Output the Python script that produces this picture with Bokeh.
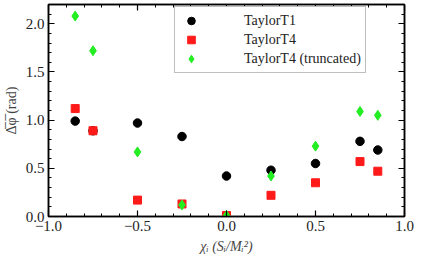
from bokeh.plotting import figure
from bokeh.models import (Range1d, LinearAxis, FixedTicker, Legend, LegendItem,
                          CustomLabelingPolicy)
from bokeh.embed import file_html
from bokeh.resources import INLINE

# ---- data ----
chi = [-0.85, -0.75, -0.5, -0.25, 0.0, 0.25, 0.5, 0.75, 0.85]
taylor_t1 = [0.99, 0.89, 0.97, 0.83, 0.42, 0.48, 0.55, 0.78, 0.69]
taylor_t4 = [1.12, 0.89, 0.17, 0.13, 0.01, 0.22, 0.35, 0.57, 0.47]
taylor_t4_trunc = [2.08, 1.72, 0.67, 0.12, 0.01, 0.42, 0.73, 1.09, 1.05]

x_ticks = [-1.0, -0.5, 0.0, 0.5, 1.0]
x_tick_labels = ["\u22121.0", "\u22120.5", "0.0", "0.5", "1.0"]
y_ticks = [0.0, 0.5, 1.0, 1.5, 2.0]
y_tick_labels = ["0.0", "0.5", "1.0", "1.5", "2.0"]
x_minor = [round(-1.0 + 0.1 * i, 2) for i in range(21)]
y_minor = [round(0.1 * i, 2) for i in range(23)]

series_names = ["TaylorT1", "TaylorT4", "TaylorT4 (truncated)"]
x_label = "\u03c7\u1d62 (S\u1d62/M\u1d62\u00b2)"
y_label = "\u0394\u0305\u03c6\u0305 (rad)"

FONT = "'Liberation Serif'"

p = figure(width=420, height=256,
           min_border_left=45, min_border_right=16,
           min_border_top=0, min_border_bottom=20,
           x_range=Range1d(-1.0, 1.0), y_range=Range1d(0.0, 2.2),
           output_backend="svg", toolbar_location=None,
           background_fill_color="white", border_fill_color="white")
p.xgrid.visible = False
p.ygrid.visible = False
p.outline_line_color = "black"
p.outline_line_width = 1.5

r1 = p.scatter(chi, taylor_t1, marker="circle", size=8.5, color="black")
r2 = p.scatter(chi, taylor_t4, marker="square", size=8, color="#ff1a1a")
r3 = p.scatter(chi, taylor_t4_trunc, marker="diamond", size=10, color="#22ee22")

hide_all = CustomLabelingPolicy(code="""
    const idx = [...indices]
    for (const i of idx) indices.unset(i)
    return indices
""")

def style_axis(ax, ticks, labels, minor, show_labels=True):
    ax.ticker = FixedTicker(ticks=ticks, minor_ticks=minor)
    ax.major_label_overrides = {t: l for t, l in zip(ticks, labels)}
    ax.axis_line_color = "black"
    ax.axis_line_width = 1.5
    ax.major_tick_line_color = "black"
    ax.minor_tick_line_color = "black"
    ax.major_tick_line_width = 1.2
    ax.minor_tick_line_width = 1.0
    ax.major_tick_in = 6
    ax.major_tick_out = 0
    ax.minor_tick_in = 3
    ax.minor_tick_out = 0
    ax.major_label_text_font = FONT
    ax.major_label_text_color = "#222222"
    if show_labels:
        ax.major_label_text_font_size = "15px"
        ax.major_label_standoff = 4
    else:
        ax.major_label_text_font_size = "1px"
        ax.major_label_policy = hide_all
        ax.major_label_standoff = 0

xax = p.xaxis[0]
yax = p.yaxis[0]
style_axis(xax, x_ticks, x_tick_labels, x_minor)
style_axis(yax, y_ticks, y_tick_labels, y_minor)

xax.axis_label = x_label
xax.axis_label_text_font = FONT
xax.axis_label_text_font_style = "italic"
xax.axis_label_text_font_size = "14px"
xax.axis_label_standoff = 5

yax.axis_label = y_label
yax.axis_label_text_font = FONT
yax.axis_label_text_font_style = "normal"
yax.axis_label_text_font_size = "14px"
yax.axis_label_standoff = 4

top = LinearAxis()
style_axis(top, x_ticks, x_tick_labels, x_minor, show_labels=False)
p.add_layout(top, "above")
right = LinearAxis()
style_axis(right, y_ticks, y_tick_labels, y_minor, show_labels=False)
p.add_layout(right, "right")

legend = Legend(items=[LegendItem(label=series_names[0], renderers=[r1]),
                       LegendItem(label=series_names[1], renderers=[r2]),
                       LegendItem(label=series_names[2], renderers=[r3])],
                location=(126, 143))
legend.label_text_font = FONT
legend.label_text_font_size = "14px"
legend.label_text_color = "#222222"
legend.border_line_color = "#808080"
legend.border_line_width = 1
legend.background_fill_color = "white"
legend.background_fill_alpha = 1.0
legend.padding = 4
legend.spacing = 0
legend.margin = 0
legend.glyph_width = 24
legend.glyph_height = 19
legend.label_height = 19
legend.label_standoff = 41
p.add_layout(legend, "center")

open("out.html", "w").write(file_html(p, INLINE))
